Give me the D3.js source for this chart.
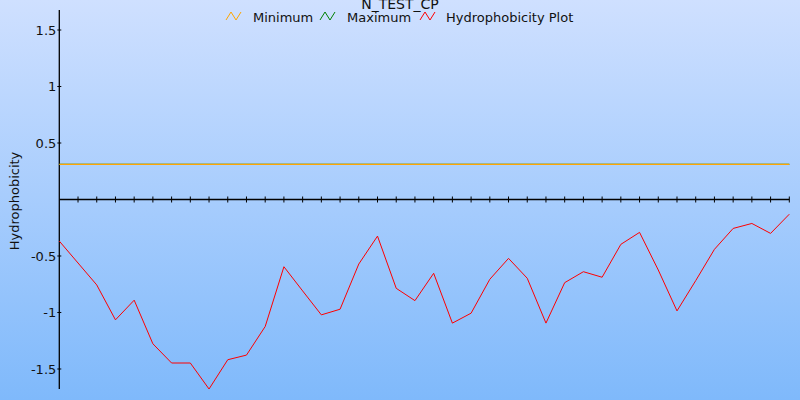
<!DOCTYPE html>
<html><head><meta charset="utf-8">
<script src="https://cdn.jsdelivr.net/npm/d3@7"></script>
<style>body{margin:0;}svg{display:block;font-family:"DejaVu Sans",Verdana,sans-serif;}</style>
</head><body>
<script>
const title = "N_TEST_CP";
const yLabel = "Hydrophobicity";
const seriesNames = ["Minimum", "Maximum", "Hydrophobicity Plot"];
const seriesColors = ["#ffa500", "#008000", "#ff0000"];
const minimumValue = 0.31;
const maximumValue = 0.31;
const hydrophobicity = [
  -0.368, -0.562, -0.756, -1.065, -0.891, -1.277, -1.447, -1.447, -1.677, -1.418,
  -1.377, -1.124, -0.595, -0.809, -1.021, -0.971, -0.571, -0.324, -0.786, -0.895,
  -0.653, -1.094, -1.006, -0.706, -0.521, -0.697, -1.094, -0.736, -0.639, -0.688,
  -0.397, -0.291, -0.624, -0.986, -0.718, -0.441, -0.256, -0.212, -0.300, -0.130
];
const yTicks = [-1.5, -1, -0.5, 0.5, 1, 1.5];
const yTickLabels = ["-1.5", "-1", "-0.5", "0.5", "1", "1.5"];

const W = 800, H = 400;
const svg = d3.select("body").append("svg").attr("width", W).attr("height", H);
const defs = svg.append("defs");
const grad = defs.append("linearGradient").attr("id", "bg").attr("x1", 0).attr("y1", 0).attr("x2", 0).attr("y2", 1);
grad.append("stop").attr("offset", "0%").attr("stop-color", "#cfe0ff");
grad.append("stop").attr("offset", "100%").attr("stop-color", "#7fb9fb");
svg.append("rect").attr("width", W).attr("height", H).attr("fill", "url(#bg)");

const yMax = d3.max(hydrophobicity, d => Math.abs(d));
const x = d3.scaleLinear().domain([0, hydrophobicity.length - 1]).range([59.3, 789.3]);
const y = d3.scaleLinear().domain([-yMax, yMax]).range([389, 10]);

// y axis
const yAxis = svg.append("g").attr("transform", `translate(${x(0)},0)`);
yAxis.append("line").attr("x1", 0).attr("x2", 0).attr("y1", y(-yMax)).attr("y2", y(yMax)).attr("stroke", "#000").attr("stroke-width", 1.3);
yTicks.forEach((t, i) => {
  yAxis.append("line").attr("x1", -2).attr("x2", 2).attr("y1", y(t)).attr("y2", y(t)).attr("stroke", "#000");
  yAxis.append("text").attr("x", -3).attr("y", y(t)).attr("dy", "0.35em").attr("text-anchor", "end")
    .attr("font-size", 13).attr("fill", "#111").text(yTickLabels[i]);
});

// x axis at zero
const xAxis = svg.append("g").attr("transform", `translate(0,${y(0)})`);
xAxis.append("line").attr("x1", x(0)).attr("x2", x(hydrophobicity.length - 1)).attr("y1", 0).attr("y2", 0).attr("stroke", "#000").attr("stroke-width", 1.5);
d3.range(1, hydrophobicity.length).forEach(i => {
  xAxis.append("line").attr("x1", x(i)).attr("x2", x(i)).attr("y1", -3).attr("y2", 3).attr("stroke", "#000");
});

// lines
svg.append("line").attr("x1", x(0)).attr("x2", x(hydrophobicity.length - 1))
  .attr("y1", y(maximumValue)).attr("y2", y(maximumValue)).attr("stroke", seriesColors[1]).attr("stroke-width", 1.2);
svg.append("line").attr("x1", x(0)).attr("x2", x(hydrophobicity.length - 1))
  .attr("y1", y(minimumValue)).attr("y2", y(minimumValue)).attr("stroke", seriesColors[0]).attr("stroke-width", 1.2);
const line = d3.line().x((d, i) => x(i)).y(d => y(d));
svg.append("path").datum(hydrophobicity).attr("d", line).attr("fill", "none").attr("stroke", seriesColors[2]).attr("stroke-width", 1);

// title
svg.append("text").attr("x", 400).attr("y", 9).attr("text-anchor", "middle").attr("font-size", 14).attr("fill", "#111").text(title);

// legend
const legendX = [226, 320, 420];
const legendTextX = [253, 347, 446];
seriesNames.forEach((n, i) => {
  const lx = legendX[i], ly = 17;
  svg.append("path").attr("d", `M${lx},${ly + 3} L${lx + 5},${ly - 5} L${lx + 10},${ly + 3} L${lx + 15},${ly - 5}`)
    .attr("fill", "none").attr("stroke", seriesColors[i]).attr("stroke-width", 1);
  svg.append("text").attr("x", legendTextX[i]).attr("y", ly).attr("dy", "0.35em").attr("font-size", 13).attr("fill", "#111").text(n);
});

// y label
svg.append("text").attr("transform", "translate(19,201) rotate(-90)").attr("text-anchor", "middle")
  .attr("font-size", 13).attr("fill", "#111").text(yLabel);
</script>
</body></html>
